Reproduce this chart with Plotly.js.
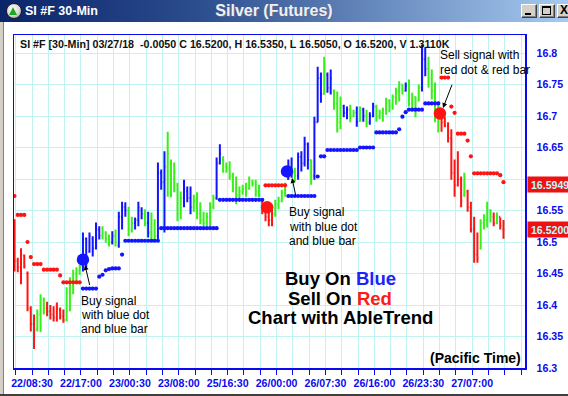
<!DOCTYPE html>
<html><head><meta charset="utf-8">
<script src="https://cdn.plot.ly/plotly-3.0.1.min.js"></script>
<style>
html,body{margin:0;padding:0;width:568px;height:396px;overflow:hidden;background:#d4d0c8;font-family:"Liberation Sans",Arial,sans-serif;}
#tb{position:absolute;left:0;top:0;width:568px;height:22px;background:linear-gradient(to right,#0a246a 0%,#2c4d8e 35%,#a6caf0 100%);}
#icon{position:absolute;left:6px;top:3px;width:14px;height:14px;border-radius:50%;background:radial-gradient(circle at 40% 35%,#ffffff 0%,#d8d8d8 55%,#707070 100%);border:1px solid #202020;}
#tri{position:absolute;left:9px;top:7px;width:0;height:0;border-left:4.5px solid transparent;border-right:4.5px solid transparent;border-bottom:8px solid #1fa81f;}
#tleft{position:absolute;left:25px;top:3px;color:#fff;font-weight:bold;font-size:12.5px;line-height:16px;white-space:nowrap;}
#tcenter{position:absolute;left:200px;width:148px;top:2px;text-align:center;color:#eef0f4;font-weight:bold;font-size:16px;line-height:18px;white-space:nowrap;text-shadow:1px 1px 0 #5a6a8a;}
.btn{position:absolute;top:4px;width:14px;height:12px;background:#d4d0c8;border:1px solid;border-color:#ffffff #404040 #404040 #ffffff;box-shadow:inset -1px -1px 0 #808080;}
#content{position:absolute;left:3px;top:22px;width:565px;height:372px;background:#fff;border-left:1px solid #808080;}
#bot{position:absolute;left:0;top:394px;width:568px;height:2px;background:#404040;}
#chart{position:absolute;left:0;top:0;width:568px;height:396px;}
</style></head><body>
<div id="tb"></div>
<div id="icon"></div><div id="tri"></div>
<div id="tleft">SI #F 30-Min</div>
<div id="tcenter">Silver (Futures)</div>
<div class="btn" style="left:521px"><div style="position:absolute;left:3px;top:8px;width:6px;height:2px;background:#000"></div></div>
<div class="btn" style="left:539px"><div style="position:absolute;left:2px;top:1px;width:7px;height:6px;border:1px solid #000;border-top-width:2px"></div></div>
<div class="btn" style="left:557px"><div style="position:absolute;left:2px;top:-2px;font-size:12px;font-weight:bold;color:#000">X</div></div>
<div id="content"></div>
<div id="bot"></div>
<div id="chart"></div>
<script>
const _ = null;
const timeLabels = ['22/08:30','22/17:00','23/00:30','23/08:00','25/16:30','26/00:00','26/07:30','26/16:00','26/23:30','27/07:00'];
const priceLabels = ['16.3','16.35','16.4','16.45','16.5','16.55','16.6','16.65','16.7','16.75','16.8'];

const high = [
16.536,16.475,16.490,16.480,16.453,16.398,16.385,16.393,16.417,16.412,
16.405,16.400,16.398,16.404,16.396,16.393,16.428,16.444,16.456,16.460,
16.464,16.515,16.507,16.515,16.509,16.531,16.525,16.525,16.517,16.512,
16.517,16.520,16.548,16.564,16.563,16.556,16.540,16.539,16.564,16.555,
16.552,16.548,16.547,16.536,16.626,16.615,16.644,16.675,16.631,16.626,
16.594,16.580,16.599,16.588,16.588,16.575,16.579,16.563,16.548,16.547,
16.563,16.575,16.634,16.655,16.636,16.626,16.628,16.610,16.604,16.588,
16.591,16.594,16.604,16.599,16.599,16.591,16.567,16.563,16.556,16.559,
16.567,16.572,16.583,16.594,16.631,16.634,16.618,16.642,16.644,16.667,
16.658,16.631,16.699,16.778,16.769,16.794,16.769,16.774,16.742,16.739,
16.731,16.718,16.715,16.718,16.710,16.715,16.715,16.713,16.710,16.706,
16.721,16.718,16.710,16.713,16.729,16.726,16.734,16.745,16.755,16.750,
16.753,16.758,16.737,16.731,16.750,16.813,16.809,16.794,16.774,16.753,
16.723,16.710,16.699,16.690,16.679,16.631,16.644,16.604,16.610,16.583,
16.564,16.540,16.515,16.536,16.544,16.564,16.552,16.547,16.547,16.539,
16.535];
const low = [
16.453,16.452,16.433,16.458,16.390,16.358,16.330,16.358,16.357,16.385,
16.382,16.377,16.374,16.374,16.377,16.372,16.374,16.390,16.417,16.437,
16.448,16.453,16.460,16.483,16.477,16.488,16.504,16.504,16.499,16.493,
16.496,16.493,16.491,16.520,16.540,16.509,16.515,16.520,16.525,16.536,
16.525,16.507,16.504,16.504,16.504,16.583,16.515,16.572,16.571,16.579,
16.533,16.536,16.555,16.563,16.544,16.548,16.536,16.528,16.525,16.525,
16.525,16.552,16.567,16.623,16.610,16.610,16.599,16.579,16.560,16.567,
16.575,16.572,16.583,16.588,16.572,16.571,16.544,16.533,16.525,16.525,
16.540,16.552,16.563,16.572,16.599,16.602,16.596,16.599,16.612,16.620,
16.615,16.591,16.599,16.690,16.721,16.734,16.737,16.734,16.710,16.674,
16.679,16.698,16.695,16.690,16.698,16.683,16.691,16.691,16.682,16.686,
16.698,16.691,16.695,16.691,16.702,16.706,16.710,16.718,16.723,16.734,
16.739,16.715,16.710,16.698,16.723,16.739,16.763,16.745,16.726,16.690,
16.674,16.675,16.682,16.658,16.599,16.572,16.588,16.555,16.572,16.548,
16.515,16.467,16.467,16.488,16.520,16.523,16.531,16.525,16.528,16.520,
16.505];
const open = [
16.530,16.470,16.460,16.478,16.450,16.395,16.370,16.362,16.385,16.408,
16.395,16.390,16.385,16.380,16.392,16.382,16.376,16.420,16.438,16.450,
16.455,16.460,16.505,16.485,16.505,16.490,16.520,16.510,16.515,16.505,
16.500,16.510,16.495,16.540,16.555,16.550,16.520,16.530,16.535,16.550,
16.545,16.530,16.515,16.530,16.510,16.610,16.595,16.620,16.625,16.600,
16.590,16.545,16.570,16.580,16.570,16.555,16.565,16.545,16.535,16.530,
16.540,16.555,16.570,16.625,16.630,16.620,16.615,16.605,16.585,16.575,
16.580,16.585,16.585,16.595,16.592,16.580,16.565,16.550,16.540,16.535,
16.545,16.560,16.565,16.578,16.600,16.620,16.610,16.605,16.635,16.625,
16.655,16.630,16.605,16.690,16.760,16.735,16.765,16.745,16.740,16.720,
16.690,16.715,16.705,16.710,16.700,16.705,16.692,16.710,16.700,16.690,
16.700,16.715,16.700,16.705,16.710,16.725,16.715,16.730,16.740,16.750,
16.740,16.748,16.720,16.730,16.725,16.745,16.790,16.775,16.760,16.740,
16.700,16.710,16.690,16.685,16.665,16.610,16.590,16.600,16.575,16.580,
16.555,16.520,16.480,16.490,16.530,16.535,16.550,16.540,16.530,16.540,
16.520];
const close = [
16.470,16.460,16.480,16.462,16.395,16.370,16.360,16.385,16.410,16.395,
16.390,16.385,16.380,16.395,16.382,16.376,16.420,16.440,16.450,16.455,
16.460,16.505,16.470,16.510,16.490,16.520,16.510,16.515,16.505,16.500,
16.510,16.500,16.540,16.555,16.550,16.520,16.530,16.535,16.555,16.545,
16.530,16.515,16.535,16.510,16.610,16.595,16.620,16.640,16.600,16.610,
16.545,16.570,16.585,16.570,16.555,16.565,16.545,16.535,16.530,16.540,
16.555,16.570,16.625,16.640,16.620,16.615,16.605,16.585,16.575,16.580,
16.585,16.580,16.595,16.592,16.580,16.575,16.550,16.540,16.535,16.545,
16.560,16.565,16.578,16.590,16.620,16.610,16.605,16.635,16.625,16.655,
16.630,16.605,16.690,16.760,16.735,16.775,16.745,16.760,16.720,16.690,
16.720,16.705,16.710,16.700,16.705,16.690,16.710,16.700,16.690,16.700,
16.715,16.700,16.705,16.710,16.725,16.715,16.730,16.740,16.750,16.740,
16.748,16.720,16.730,16.705,16.745,16.790,16.775,16.760,16.740,16.700,
16.710,16.690,16.685,16.665,16.610,16.590,16.600,16.565,16.600,16.555,
16.520,16.480,16.475,16.530,16.535,16.550,16.540,16.530,16.540,16.525,
16.520];
// bar colour per bar: B = blue (buy), G = green (neutral), R = red (sell)
const barColor = ('RRRRRRRGGGRRRRRRGGGGGBBBBBBGGGBGBBBGGBBBGBGGBBBGGGGGBBBGGGGGGGBB' +
  'GGGGGGGGGGGGRRRRGGGGBBGBBBBGBBBGBBGGGBBGGBGBGBBGGGGGGGGGBGGGGBBGGGG' +
  'RRRRRRRGRRRRGGGGRGRR').split('');

const redStop = [
16.573,16.543,16.543,16.543,16.500,16.476,16.465,16.465,16.465,16.456,
16.456,16.456,16.456,16.456,16.447,16.436,16.436,16.436,16.436,16.436,
16.436,_,_,_,_,_,_,_,_,_,
_,_,_,_,_,_,_,_,_,_,
_,_,_,_,_,_,_,_,_,_,
_,_,_,_,_,_,_,_,_,_,
_,_,_,_,_,_,_,_,_,_,
_,_,_,_,_,_,_,16.590,16.590,16.590,
16.590,16.590,16.590,16.590,_,_,_,_,_,_,
_,_,_,_,_,_,_,_,_,_,
_,_,_,_,_,_,_,_,_,_,
_,_,_,_,_,_,_,_,_,_,
_,_,_,_,_,_,_,_,_,_,
_,16.761,16.761,16.761,16.715,16.705,16.672,16.672,16.672,16.661,
16.636,16.609,16.609,16.609,16.609,16.609,16.609,16.609,16.609,16.606,
16.595];
const blueStop = [
_,_,_,_,_,_,_,_,_,_,
_,_,_,_,_,_,_,_,_,_,
_,16.426,16.426,16.426,16.426,16.426,16.445,16.448,16.455,16.457,
16.458,16.458,16.458,16.480,16.502,16.502,16.502,16.502,16.502,16.502,
16.502,16.502,16.502,16.502,16.502,16.522,16.522,16.522,16.522,16.522,
16.522,16.522,16.522,16.522,16.522,16.522,16.522,16.522,16.522,16.522,
16.522,16.522,16.522,16.567,16.567,16.567,16.567,16.567,16.567,16.567,
16.567,16.567,16.567,16.567,16.567,16.567,16.567,_,_,_,
_,_,_,_,16.573,16.573,16.573,16.573,16.573,16.573,
16.573,16.573,16.573,16.604,16.636,16.636,16.646,16.646,16.646,16.646,
16.646,16.646,16.646,16.646,16.646,16.646,16.650,16.650,16.650,16.650,
16.650,16.674,16.674,16.674,16.674,16.674,16.674,16.674,16.679,16.699,
16.706,16.710,16.710,16.710,16.710,16.710,16.720,16.720,16.720,16.720,
16.720,_,_,_,_,_,_,_,_,_,
_,_,_,_,_,_,_,_,_,_,
_];

const signalBar = [21, 77.5, 83.6, 130.5];
const signalPrice = [16.472, 16.555, 16.612, 16.704];
const signalType = ['B','R','B','R'];

const lastStop = 16.5949;
const lastClose = 16.5200;
const infoLine = 'SI #F [30-Min] 03/27/18  -0.0050 C 16.5200, H 16.5350, L 16.5050, O 16.5200, V 1.3110K';

// ---------------- drawing ----------------
const FONT = '"Liberation Sans", Arial, sans-serif';
const COL = {B:'#1414ff', G:'#38f018', R:'#ff1414'};
const AXBLUE = '#0a0af0';
const GRID = '#c2f3f3';
const idx = high.map((v,i)=>i);

function ohlcTrace(code){
  const sel = idx.filter(i => barColor[i] === code);
  return {
    type:'ohlc', x: sel,
    open: sel.map(i=>open[i]), high: sel.map(i=>high[i]),
    low: sel.map(i=>low[i]), close: sel.map(i=>close[i]),
    increasing:{line:{color:COL[code], width:2}},
    decreasing:{line:{color:COL[code], width:2}},
    tickwidth:0.35, hoverinfo:'skip', showlegend:false
  };
}
const traces = [ohlcTrace('G'), ohlcTrace('B'), ohlcTrace('R'),
  {type:'scatter', mode:'markers', x: idx, y: redStop, marker:{color:COL.R, size:4.2}, hoverinfo:'skip', showlegend:false},
  {type:'scatter', mode:'markers', x: idx, y: blueStop, marker:{color:COL.B, size:4.2}, hoverinfo:'skip', showlegend:false},
  {type:'scatter', mode:'markers', x: signalBar, y: signalPrice,
   marker:{color: signalType.map(t=>COL[t]), size:12.5}, hoverinfo:'skip', showlegend:false}
];

// x ticks: one every 5 bars, labelled every 15 bars
const tickVals = [], tickText = [];
for (let j = 0; j < 32; j++) {
  tickVals.push(0.4 + 5*j);
  tickText.push(j % 3 === 1 ? (timeLabels[(j-1)/3] || '') : '');
}
// the price label hidden under the last-stop box is not shown
const yTickText = priceLabels.map(s => Math.abs(Number(s) - lastStop) < 0.012 ? '' : s);

const L = 14, R = 525, T = 35, B = 368;
const PX = px => (px - L) / (R - L);
const PY = py => (B - py) / (B - T);

function txt(px, py, text, size, opts){
  return Object.assign({xref:'paper', yref:'paper', x:PX(px), y:PY(py), text:text,
    showarrow:false, xanchor:'left', yanchor:'middle',
    font:{family:FONT, size:size, color:'#000'}}, opts||{});
}
function arrow(tx, ty, ax, ay){
  return {xref:'paper', yref:'paper', x:PX(tx), y:PY(ty), ax:ax, ay:ay, text:' ',
    showarrow:true, arrowhead:2, arrowsize:1, arrowwidth:1, arrowcolor:'#000', standoff:0};
}
function box(val, text, yshift){
  return {xref:'paper', yref:'y', x:1, y:val, xanchor:'left', yanchor:'middle', xshift:2, yshift:yshift,
    text:'&nbsp;'+text, showarrow:false, align:'left', width:41, height:15,
    bgcolor:'#ee1111', borderpad:0,
    font:{family:FONT, size:10.6, color:'#b8ffff', weight:'bold'}};
}
const bigFont = {family:FONT, size:18.5, color:'#000', weight:'bold'};

const annotations = [
  txt(18, 43.5, infoLine, 10.7, {font:{family:FONT, size:10.7, color:'#111', weight:'bold'}}),
  txt(79, 300.5, 'Buy signal', 12), txt(79, 315, 'with blue dot', 12), txt(79, 329, 'and blue bar', 12),
  txt(287, 211.5, 'Buy signal', 12), txt(287, 226.5, 'with blue dot', 12), txt(287, 240.5, 'and blue bar', 12),
  txt(438, 55, 'Sell signal with', 12), txt(438, 69.5, 'red dot &amp; red bar', 12),
  arrow(85, 265, 7, 30), arrow(292, 178, 6, 28), arrow(443, 108, 12, -31),
  txt(340, 278, 'Buy On <span style="color:#2020ff">Blue</span>', 18.5, {xanchor:'center', font:bigFont}),
  txt(340, 298, 'Sell On <span style="color:#ff1a1a">Red</span>', 18.5, {xanchor:'center', font:bigFont}),
  txt(340, 317, 'Chart with AbleTrend', 18.5, {xanchor:'center', font:bigFont}),
  txt(523, 358, '(Pacific Time)', 14, {xanchor:'right', font:{family:FONT, size:14, color:'#000', weight:'bold'}}),
  box(lastStop, lastStop.toFixed(4), -2),
  box(lastClose, lastClose.toFixed(4), 0)
];

const layout = {
  width:568, height:396,
  margin:{l:L, r:568-R, t:T, b:396-B, pad:0},
  paper_bgcolor:'rgba(0,0,0,0)', plot_bgcolor:'#ffffff',
  showlegend:false, dragmode:false,
  xaxis:{range:[-0.15, -0.15 + (R-L)/3.26], tickvals:tickVals, ticktext:tickText,
    ticks:'outside', ticklen:5, tickcolor:AXBLUE, tickwidth:1,
    showgrid:true, gridcolor:GRID, gridwidth:1, zeroline:false,
    showline:true, mirror:true, linecolor:AXBLUE, linewidth:1.5,
    tickfont:{family:FONT, size:10.6, color:AXBLUE, weight:'bold'},
    rangeslider:{visible:false}, fixedrange:true},
  yaxis:{side:'right', range:[16.3, 16.3 + (B-T)/630],
    tickvals:priceLabels.map(Number), ticktext:yTickText,
    ticks:'', ticklabelstandoff:8,
    showgrid:true, gridcolor:GRID, gridwidth:1, zeroline:false,
    showline:true, mirror:true, linecolor:AXBLUE, linewidth:1.5,
    tickfont:{family:FONT, size:10.6, color:AXBLUE, weight:'bold'}, fixedrange:true},
  annotations: annotations
};

Plotly.newPlot('chart', traces, layout, {staticPlot:true, displayModeBar:false});
</script>
</body></html>
